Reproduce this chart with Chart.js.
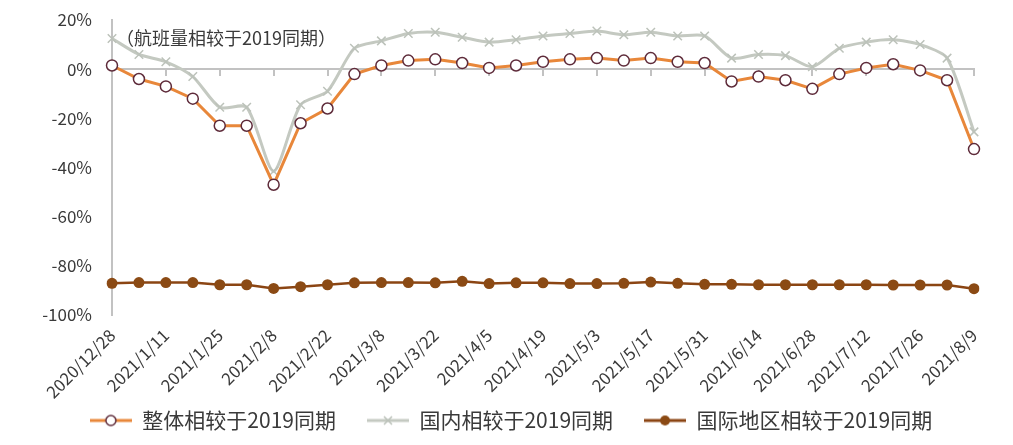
<!DOCTYPE html>
<html>
<head>
<meta charset="utf-8">
<script src="https://cdn.jsdelivr.net/npm/chart.js@4/dist/chart.umd.min.js"></script>
<style>
  html, body { margin: 0; padding: 0; background: #fff; }
  #wrap { width: 1013px; height: 445px; }
</style>
</head>
<body>
<div id="wrap"><canvas id="flightChart"></canvas></div>
<script>
const dates = ['2020/12/28', '2021/1/4', '2021/1/11', '2021/1/18', '2021/1/25', '2021/2/1', '2021/2/8',
    '2021/2/15', '2021/2/22', '2021/3/1', '2021/3/8', '2021/3/15', '2021/3/22', '2021/3/29', '2021/4/5',
    '2021/4/12', '2021/4/19', '2021/4/26', '2021/5/3', '2021/5/10', '2021/5/17', '2021/5/24', '2021/5/31',
    '2021/6/7', '2021/6/14', '2021/6/21', '2021/6/28', '2021/7/5', '2021/7/12', '2021/7/19', '2021/7/26',
    '2021/8/2', '2021/8/9'];

const overall = [1.5, -4, -7, -12, -23, -23, -47, -22, -16, -2, 1.5, 3.5, 4, 2.5, 0.5, 1.5, 3, 4, 4.5,
    3.5, 4.5, 3, 2.5, -5, -3, -4.5, -8, -2, 0.5, 2, -0.5, -4.5, -32.5];

const domestic = [12.5, 6, 3, -3, -15.5, -15.5, -41.5, -14.5, -9, 8.5, 11.5, 14.5, 15, 13, 11, 12, 13.5,
    14.5, 15.5, 14, 15, 13.5, 13.5, 4.5, 6, 5.5, 1, 8.5, 11, 12, 10, 4.5, -25.5];

const international = [-87.1, -86.8, -86.8, -86.8, -87.7, -87.7, -89.2, -88.5, -87.7, -86.9, -86.8, -86.8,
    -86.9, -86.3, -87.2, -86.9, -86.9, -87.2, -87.2, -87.1, -86.6, -87.1, -87.5, -87.5, -87.7, -87.7,
    -87.7, -87.7, -87.7, -87.8, -87.8, -87.8, -89.3];

const seriesNames = ['整体相较于2019同期', '国内相较于2019同期', '国际地区相较于2019同期'];
const yTicks = [20, 0, -20, -40, -60, -80, -100];
const note = '（航班量相较于2019同期）';

const FONT = "'Noto Sans CJK SC', 'Noto Sans', sans-serif";
const TEXT = '#3a3a3a';
const AXIS = '#c2c2c2';

// legend icons: line with the marker in the middle
function legendIcon(lineColor, lineWidth, drawMarker) {
    const c = document.createElement('canvas');
    c.width = 42;
    c.height = 16;
    const g = c.getContext('2d');
    g.strokeStyle = lineColor;
    g.lineWidth = lineWidth;
    g.beginPath();
    g.moveTo(0, 8);
    g.lineTo(42, 8);
    g.stroke();
    drawMarker(g);
    return c;
}

const icons = [
    legendIcon('#e8873a', 3, g => {
        g.beginPath();
        g.arc(21, 8, 5, 0, Math.PI * 2);
        g.fillStyle = '#fff';
        g.fill();
        g.strokeStyle = '#5e2b3a';
        g.lineWidth = 1.5;
        g.stroke();
    }),
    legendIcon('#c4c9c1', 3, g => {
        g.strokeStyle = '#bcc2ba';
        g.lineWidth = 1.5;
        g.beginPath();
        g.moveTo(17, 4); g.lineTo(25, 12);
        g.moveTo(25, 4); g.lineTo(17, 12);
        g.stroke();
    }),
    legendIcon('#8b4513', 3, g => {
        g.beginPath();
        g.arc(21, 8, 5, 0, Math.PI * 2);
        g.fillStyle = '#8b4a14';
        g.fill();
    })
];

const notePlugin = {
    id: 'note',
    afterLayout(chart) {
        // legend sits a bit right of the page centre in the original
        chart.legend.left += 24;
        chart.legend.right += 24;
    },
    afterDraw(chart) {
        const c = chart.ctx;
        c.save();
        c.font = '18px ' + FONT;
        c.fillStyle = TEXT;
        c.textBaseline = 'middle';
        c.textAlign = 'left';
        c.fillText(note, chart.chartArea.left + 4, 38);
        c.restore();
    }
};

const ctx = document.getElementById('flightChart').getContext('2d');
const chart = new Chart(ctx, {
    type: 'line',
    data: {
        labels: dates,
        datasets: [{
            label: seriesNames[0],
            data: overall,
            borderColor: '#e8873a',
            borderWidth: 3,
            pointStyle: 'circle',
            pointRadius: 5.5,
            pointBackgroundColor: '#fff',
            pointBorderColor: '#5e2b3a',
            pointBorderWidth: 1.5,
            tension: 0
        }, {
            label: seriesNames[1],
            data: domestic,
            borderColor: '#c4c9c1',
            borderWidth: 3,
            pointStyle: 'crossRot',
            pointRadius: 6,
            pointBorderColor: '#bcc2ba',
            pointBorderWidth: 1.5,
            tension: 0.25
        }, {
            label: seriesNames[2],
            data: international,
            borderColor: '#8b4513',
            borderWidth: 2.5,
            pointStyle: 'circle',
            pointRadius: 5.5,
            pointBackgroundColor: '#8b4a14',
            pointBorderColor: '#8b4a14',
            pointBorderWidth: 0,
            tension: 0
        }]
    },
    options: {
        responsive: true,
        maintainAspectRatio: false,
        animation: false,
        layout: {
            padding: { left: 0, top: 20, right: 39, bottom: 4 }
        },
        scales: {
            y: {
                min: -100,
                max: 20,
                afterBuildTicks: scale => {
                    scale.ticks = yTicks.map(v => ({ value: v }));
                },
                afterFit: scale => {
                    scale.width = 112;
                    scale.paddingTop = 10;
                    scale.paddingBottom = 10;
                },
                grid: { drawOnChartArea: false, drawTicks: false },
                border: { color: AXIS, width: 2 },
                ticks: {
                    padding: 20,
                    color: TEXT,
                    font: { family: FONT, size: 17 },
                    callback: v => v + '%'
                }
            },
            x: {
                position: { y: 0 },
                offset: false,
                grid: {
                    drawOnChartArea: false,
                    tickLength: 6,
                    color: AXIS,
                    lineWidth: 2
                },
                border: { color: AXIS, width: 2 },
                ticks: {
                    display: false,
                    autoSkip: false,
                    callback: function (v, i) { return i % 2 === 0 ? '' : null; }
                }
            },
            x2: {
                type: 'category',
                position: 'bottom',
                offset: false,
                afterFit: scale => { scale.height = 85; },
                grid: { display: false },
                border: { display: false },
                ticks: {
                    autoSkip: false,
                    maxRotation: 45,
                    minRotation: 45,
                    padding: 2,
                    color: TEXT,
                    font: { family: FONT, size: 17 },
                    callback: function (v, i) { return i % 2 === 0 ? dates[i] : null; }
                }
            }
        },
        plugins: {
            legend: {
                position: 'bottom',
                labels: {
                    usePointStyle: true,
                    pointStyleWidth: 42,
                    padding: 10,
                    color: TEXT,
                    font: { family: FONT, size: 21 },
                    // full-width space after the first two names widens the gap between items
                    generateLabels: ch => ch.data.datasets.map((ds, i) => ({
                        text: i < 2 ? ds.label + '\u3000' : ds.label,
                        pointStyle: icons[i],
                        fillStyle: 'transparent',
                        strokeStyle: 'transparent',
                        lineWidth: 0,
                        fontColor: TEXT,
                        datasetIndex: i,
                        hidden: false
                    }))
                }
            },
            tooltip: { enabled: false }
        }
    },
    plugins: [notePlugin]
});
</script>
</body>
</html>
